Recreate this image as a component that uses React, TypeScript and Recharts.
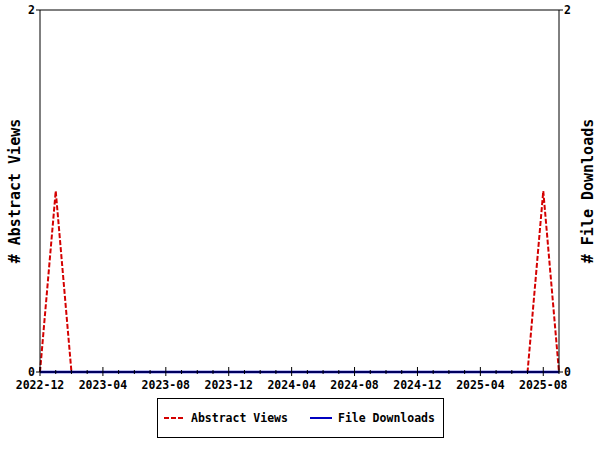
import React from "react";
import { LineChart, Line, XAxis, YAxis, Legend, ReferenceLine } from "recharts";

const months = [
  "2022-12","2023-01","2023-02","2023-03","2023-04","2023-05","2023-06","2023-07","2023-08","2023-09","2023-10","2023-11",
  "2023-12","2024-01","2024-02","2024-03","2024-04","2024-05","2024-06","2024-07","2024-08","2024-09","2024-10","2024-11",
  "2024-12","2025-01","2025-02","2025-03","2025-04","2025-05","2025-06","2025-07","2025-08","2025-09",
];
const abstractViews = [0,1,0,0,0,0,0,0,0,0,0,0, 0,0,0,0,0,0,0,0,0,0,0,0, 0,0,0,0,0,0,0,0,1,0];
const fileDownloads = [0,0,0,0,0,0,0,0,0,0,0,0, 0,0,0,0,0,0,0,0,0,0,0,0, 0,0,0,0,0,0,0,0,0,0];
const tickLabels = ["2022-12","2023-04","2023-08","2023-12","2024-04","2024-08","2024-12","2025-04","2025-08"];

const data = months.map((m, i) => ({ month: m, views: abstractViews[i], downloads: fileDownloads[i] }));

const FONT = "'DejaVu Sans Mono', monospace";
const RED = "#d40000";
const BLUE = "#0000c0";

const XTick = (props: any) => {
  const { x, y, payload } = props;
  const major = tickLabels.includes(payload.value);
  return (
    <g>
      <line x1={x} x2={x} y1={major ? y - 5 : y - 2} y2={major ? y + 4 : y + 2} stroke="#000" strokeWidth={1} />
      {major && (
        <text x={x} y={y + 17} textAnchor="middle" fontFamily={FONT} fontWeight="bold" fontSize={11.5} fill="#000">
          {payload.value}
        </text>
      )}
    </g>
  );
};

const LegendBox = () => (
  <div
    style={{
      boxSizing: "border-box",
      width: 287,
      height: 40,
      border: "1px solid #000",
      background: "#fff",
      fontFamily: FONT,
      fontWeight: "bold",
      fontSize: 11.5,
      position: "relative",
    }}
  >
    <svg width={287} height={40} style={{ position: "absolute", left: -1, top: -1 }}>
      <line x1={7} x2={27} y1={20} y2={20} stroke={RED} strokeWidth={2} strokeDasharray="5 2" />
      <text x={34} y={24} fontFamily={FONT} fontWeight="bold" fontSize={11.5} fill="#000">Abstract Views</text>
      <line x1={153} x2={175} y1={20} y2={20} stroke={BLUE} strokeWidth={2} />
      <text x={181} y={24} fontFamily={FONT} fontWeight="bold" fontSize={11.5} fill="#000">File Downloads</text>
    </svg>
  </div>
);

export default function App() {
  return (
    <div style={{ position: "absolute", left: 0, top: 0, width: 600, height: 450, background: "#fff" }}>
      <LineChart width={600} height={450} data={data} margin={{ top: 10, right: 0, bottom: 0, left: 0 }}>
        <XAxis
          dataKey="month"
          interval={0}
          tickSize={0}
          tickMargin={0}
          tickLine={false}
          axisLine={{ stroke: "#000" }}
          height={78}
          tick={<XTick />}
          padding={{ left: 0, right: 0 }}
        />
        <YAxis
          yAxisId="left"
          domain={[0, 2]}
          ticks={[0, 2]}
          width={40}
          tickSize={4}
          tickMargin={1}
          axisLine={{ stroke: "#000" }}
          tickLine={{ stroke: "#000" }}
          tick={{ fontFamily: FONT, fontWeight: "bold", fontSize: 11.5, fill: "#000" }}
          label={{ value: "# Abstract Views", angle: -90, position: "insideLeft", offset: 0, dx: 15, fontFamily: FONT, fontWeight: "bold", fontSize: 15, fill: "#000", style: { textAnchor: "middle" } }}
        />
        <YAxis
          yAxisId="right"
          orientation="right"
          domain={[0, 2]}
          ticks={[0, 2]}
          width={41}
          tickSize={4}
          tickMargin={1}
          axisLine={{ stroke: "#000" }}
          tickLine={{ stroke: "#000" }}
          tick={{ fontFamily: FONT, fontWeight: "bold", fontSize: 11.5, fill: "#000" }}
          label={{ value: "# File Downloads", angle: -90, position: "insideRight", offset: 0, dx: -12, fontFamily: FONT, fontWeight: "bold", fontSize: 15, fill: "#000", style: { textAnchor: "middle" } }}
        />
        <ReferenceLine yAxisId="left" y={2} stroke="#000" strokeWidth={1} />
        <Line yAxisId="left" type="linear" dataKey="views" name="Abstract Views" stroke={RED} strokeWidth={2} strokeDasharray="5 2" dot={false} isAnimationActive={false} />
        <Line yAxisId="right" type="linear" dataKey="downloads" name="File Downloads" stroke={BLUE} strokeWidth={2.5} dot={false} isAnimationActive={false} />
        <Legend
          layout="horizontal"
          verticalAlign="middle"
          align="center"
          content={<LegendBox />}
          wrapperStyle={{ left: 157, top: 398, width: 287, height: 40, margin: 0 }}
        />
      </LineChart>
    </div>
  );
}
